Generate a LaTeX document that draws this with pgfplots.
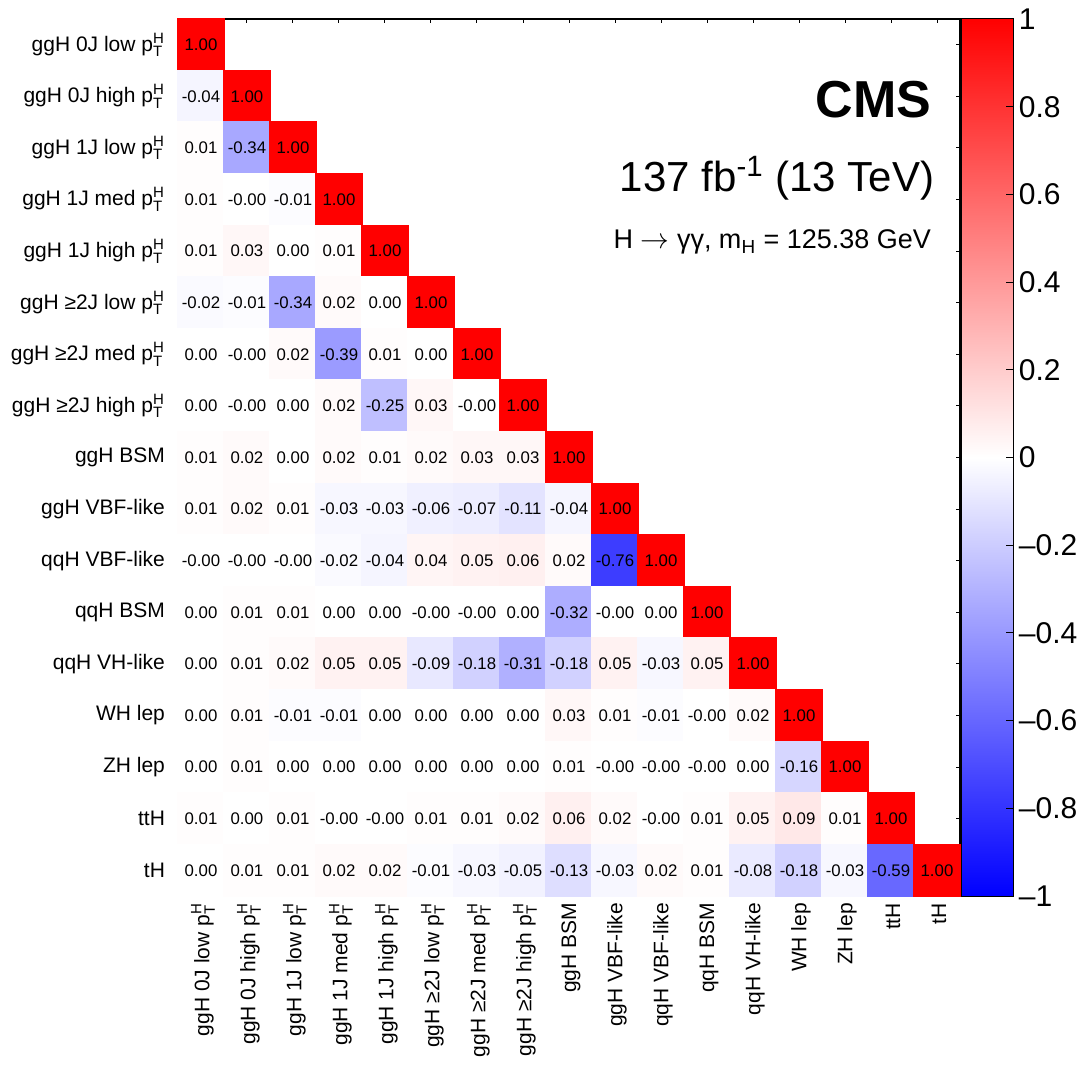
\documentclass[border=0pt]{standalone}
\usepackage{fontspec}
\setmainfont{Liberation Sans}
\usepackage{pgfplots}
\pgfplotsset{compat=1.18}
\usepackage{pgfplotstable}

\newcommand{\pTH}{p$^{\mbox{\fontsize{7.5}{7.5}\selectfont H}}_{\mbox{\fontsize{7.5}{7.5}\selectfont T}}$}

\pgfplotstableread[row sep=\\]{
x y v \\
0 0 1.00 \\
0 1 -0.04 \\ 1 1 1.00 \\
0 2 0.01 \\ 1 2 -0.34 \\ 2 2 1.00 \\
0 3 0.01 \\ 1 3 -0.00 \\ 2 3 -0.01 \\ 3 3 1.00 \\
0 4 0.01 \\ 1 4 0.03 \\ 2 4 0.00 \\ 3 4 0.01 \\ 4 4 1.00 \\
0 5 -0.02 \\ 1 5 -0.01 \\ 2 5 -0.34 \\ 3 5 0.02 \\ 4 5 0.00 \\ 5 5 1.00 \\
0 6 0.00 \\ 1 6 -0.00 \\ 2 6 0.02 \\ 3 6 -0.39 \\ 4 6 0.01 \\ 5 6 0.00 \\ 6 6 1.00 \\
0 7 0.00 \\ 1 7 -0.00 \\ 2 7 0.00 \\ 3 7 0.02 \\ 4 7 -0.25 \\ 5 7 0.03 \\ 6 7 -0.00 \\ 7 7 1.00 \\
0 8 0.01 \\ 1 8 0.02 \\ 2 8 0.00 \\ 3 8 0.02 \\ 4 8 0.01 \\ 5 8 0.02 \\ 6 8 0.03 \\ 7 8 0.03 \\ 8 8 1.00 \\
0 9 0.01 \\ 1 9 0.02 \\ 2 9 0.01 \\ 3 9 -0.03 \\ 4 9 -0.03 \\ 5 9 -0.06 \\ 6 9 -0.07 \\ 7 9 -0.11 \\ 8 9 -0.04 \\ 9 9 1.00 \\
0 10 -0.00 \\ 1 10 -0.00 \\ 2 10 -0.00 \\ 3 10 -0.02 \\ 4 10 -0.04 \\ 5 10 0.04 \\ 6 10 0.05 \\ 7 10 0.06 \\ 8 10 0.02 \\ 9 10 -0.76 \\ 10 10 1.00 \\
0 11 0.00 \\ 1 11 0.01 \\ 2 11 0.01 \\ 3 11 0.00 \\ 4 11 0.00 \\ 5 11 -0.00 \\ 6 11 -0.00 \\ 7 11 0.00 \\ 8 11 -0.32 \\ 9 11 -0.00 \\ 10 11 0.00 \\ 11 11 1.00 \\
0 12 0.00 \\ 1 12 0.01 \\ 2 12 0.02 \\ 3 12 0.05 \\ 4 12 0.05 \\ 5 12 -0.09 \\ 6 12 -0.18 \\ 7 12 -0.31 \\ 8 12 -0.18 \\ 9 12 0.05 \\ 10 12 -0.03 \\ 11 12 0.05 \\ 12 12 1.00 \\
0 13 0.00 \\ 1 13 0.01 \\ 2 13 -0.01 \\ 3 13 -0.01 \\ 4 13 0.00 \\ 5 13 0.00 \\ 6 13 0.00 \\ 7 13 0.00 \\ 8 13 0.03 \\ 9 13 0.01 \\ 10 13 -0.01 \\ 11 13 -0.00 \\ 12 13 0.02 \\ 13 13 1.00 \\
0 14 0.00 \\ 1 14 0.01 \\ 2 14 0.00 \\ 3 14 0.00 \\ 4 14 0.00 \\ 5 14 0.00 \\ 6 14 0.00 \\ 7 14 0.00 \\ 8 14 0.01 \\ 9 14 -0.00 \\ 10 14 -0.00 \\ 11 14 -0.00 \\ 12 14 0.00 \\ 13 14 -0.16 \\ 14 14 1.00 \\
0 15 0.01 \\ 1 15 0.00 \\ 2 15 0.01 \\ 3 15 -0.00 \\ 4 15 -0.00 \\ 5 15 0.01 \\ 6 15 0.01 \\ 7 15 0.02 \\ 8 15 0.06 \\ 9 15 0.02 \\ 10 15 -0.00 \\ 11 15 0.01 \\ 12 15 0.05 \\ 13 15 0.09 \\ 14 15 0.01 \\ 15 15 1.00 \\
0 16 0.00 \\ 1 16 0.01 \\ 2 16 0.01 \\ 3 16 0.02 \\ 4 16 0.02 \\ 5 16 -0.01 \\ 6 16 -0.03 \\ 7 16 -0.05 \\ 8 16 -0.13 \\ 9 16 -0.03 \\ 10 16 0.02 \\ 11 16 0.01 \\ 12 16 -0.08 \\ 13 16 -0.18 \\ 14 16 -0.03 \\ 15 16 -0.59 \\ 16 16 1.00 \\
}\corr

\begin{document}
\begin{tikzpicture}
\begin{axis}[
  at={(0,0)}, anchor=south west,
  scale only axis,
  width=391pt, height=438.5pt,
  xmin=-0.5, xmax=16.5, ymin=-0.5, ymax=16.5,
  y dir=reverse,
  axis line style={line width=0.8pt},
  tick align=inside, tick pos=both,
  major tick length=1.8pt,
  tick style={black, line width=0.5pt},
  xtick={0,...,16}, ytick={0,...,16},
  xticklabels={{ggH 0J low \pTH},{ggH 0J high \pTH},{ggH 1J low \pTH},{ggH 1J med \pTH},{ggH 1J high \pTH},{ggH ≥2J low \pTH},{ggH ≥2J med \pTH},{ggH ≥2J high \pTH},{ggH BSM},{ggH VBF-like},{qqH VBF-like},{qqH BSM},{qqH VH-like},{WH lep},{ZH lep},{ttH},{tH}},
  yticklabels={{ggH 0J low \pTH},{ggH 0J high \pTH},{ggH 1J low \pTH},{ggH 1J med \pTH},{ggH 1J high \pTH},{ggH ≥2J low \pTH},{ggH ≥2J med \pTH},{ggH ≥2J high \pTH},{ggH BSM},{ggH VBF-like},{qqH VBF-like},{qqH BSM},{qqH VH-like},{WH lep},{ZH lep},{ttH},{tH}},
  xticklabel style={rotate=90, anchor=east, font=\fontsize{10.5}{10.5}\selectfont, yshift=-1pt},
  yticklabel style={anchor=east, font=\fontsize{10.5}{10.5}\selectfont, xshift=-3pt},
  xticklabel pos=bottom, yticklabel pos=left,
  colormap={bwr}{rgb=(0,0,1) rgb=(1,1,1) rgb=(1,0,0)},
  point meta min=-1, point meta max=1,
  colorbar,
  colorbar/width=26pt,
  colorbar style={
    at={(parent axis.north east)}, anchor=north west, xshift=-7.6pt,
    scale only axis, width=26pt, height=438.5pt,
    ytick={-1,-0.8,-0.6,-0.4,-0.2,0,0.2,0.4,0.6,0.8,1},
    yticklabels={--1,--0.8,--0.6,--0.4,--0.2,0,0.2,0.4,0.6,0.8,1},
    yticklabel style={font=\fontsize{15}{15}\selectfont, anchor=west, xshift=-1pt},
    ytick pos=right, yticklabel pos=right,
    tick align=inside, major tick length=4pt,
    axis line style={line width=0.5pt},
  },
]
\addplot[scatter, only marks, mark=square*, mark size=11.6pt,
  point meta=\thisrow{v},
  scatter/use mapped color={draw=mapped color, fill=mapped color},
  mark options={yscale=1.1215, line width=0pt}]
  table[x=x, y=y] {\corr};
\addplot[only marks, mark=none,
  point meta=explicit symbolic,
  nodes near coords,
  nodes near coords align=center,
  every node near coord/.append style={font=\fontsize{8.4}{8.4}\selectfont, text=black, anchor=center}]
  table[x=x, y=y, meta=v] {\corr};
\node[anchor=base east, font=\bfseries\fontsize{26}{26}\selectfont] at (rel axis cs:0.972,0.888) {CMS};
\node[anchor=base east, font=\fontsize{21}{21}\selectfont] at (rel axis cs:0.976,0.803) {137 fb\textsuperscript{-1} (13 TeV)};
\node[anchor=base east, font=\fontsize{13.5}{13.5}\selectfont] at (rel axis cs:0.972,0.738) {H $\rightarrow$ γγ, m\textsubscript{H} = 125.38 GeV};
\end{axis}
\pgfresetboundingbox
\path[use as bounding box] (-89pt,-87.5pt) rectangle (451.5pt,448pt);
\end{tikzpicture}
\end{document}
